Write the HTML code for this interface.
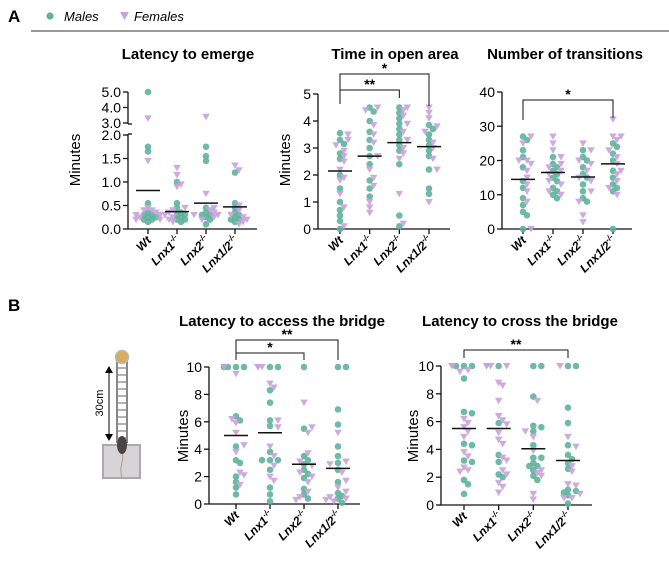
<!DOCTYPE html>
<html><head><meta charset="utf-8"><style>
body{margin:0;background:#fff}
svg{display:block;font-family:"Liberation Sans",Arial,sans-serif}
.t{font-weight:bold;font-size:15px;text-anchor:middle}
.tk{font-size:14px;text-anchor:end}
.xl{font-size:12px;font-weight:bold;font-style:italic;text-anchor:end}
</style></head><body>
<svg id="fig" width="669" height="563" viewBox="0 0 669 563">
<text x="8" y="22" font-size="17" font-weight="bold">A</text>
<g>
<circle cx="50" cy="16" r="3.6" fill="#5fb39c"/>
<text x="64" y="21" font-size="13" font-style="italic">Males</text>
<path d="M120,12 L129,12 L124.5,20 Z" fill="#c8a2db"/>
<text x="134" y="21" font-size="13" font-style="italic">Females</text>
</g>
<line x1="31" y1="31" x2="669" y2="31" stroke="#333" stroke-width="1"/>
<text x="8" y="311" font-size="17" font-weight="bold">B</text>
<g>
<rect x="103" y="445" width="37" height="33" fill="#d6d4d6" stroke="#aaa" stroke-width="2"/>
<rect x="117" y="362" width="10" height="80" fill="none" stroke="#888" stroke-width="2"/>
<g id="rungs"></g>
<circle cx="122" cy="357" r="6.5" fill="#d9ad5e" stroke="#bbb" stroke-width="1.5"/>
<path d="M122,478 C118,465 126,460 121,450" stroke="#b39a8d" fill="none" stroke-width="1"/>
<ellipse cx="122" cy="445" rx="5" ry="9" fill="#4a4444"/>
<line x1="109" y1="372" x2="109" y2="435" stroke="#000" stroke-width="1"/>
<path d="M105,373 L113,373 L109,366 Z M105,434 L113,434 L109,441 Z" fill="#000"/>
<text x="0" y="0" font-size="11" transform="translate(103,403) rotate(-90)" text-anchor="middle">30cm</text>
</g>
</svg>
<script>
const cats=["Wt","Lnx1","Lnx2","Lnx1/2"];
// Latency to emerge
const emergeM=[[5.0,1.75,1.65,0.55,0.35,0.3,0.25,0.2,0.15,0.3,0.2,0.25],[1.0,0.55,0.45,0.3,0.25,0.2,0.2,0.3,0.35,0.15],[1.75,1.55,1.45,0.45,0.35,0.3,0.25,0.2,0.1,0.3],[1.2,0.55,0.45,0.35,0.3,0.25,0.2,0.2,0.15]];
const emergeF=[[3.3,1.45,0.45,0.4,0.35,0.3,0.25,0.2,0.3,0.4,0.2],[1.3,1.15,0.95,0.9,0.4,0.35,0.3,0.25,0.2,0.15,0.45],[3.4,0.75,0.4,0.35,0.3,0.25,0.2,0.45,0.3],[1.35,1.25,0.5,0.4,0.3,0.25,0.2,0.15,0.1]];
const emergeMean=[0.82,0.37,0.55,0.47];
const emergeTicks=["0.0","0.5","1.0","1.5","2.0","3.0","4.0","5.0"];
// Time in open area
const openM=[[3.55,3.3,3.15,2.8,2.6,2.0,1.5,1.0,0.7,0.5,0.3,0.0],[4.5,4.35,4.0,3.6,3.3,3.0,2.7,2.4,1.8,1.5,1.2],[4.5,4.3,4.1,3.9,3.7,3.5,3.3,3.1,2.9,2.4,0.5,0.1],[3.85,3.7,3.5,3.3,3.1,2.9,2.7,2.2,1.5,1.3]];
const openF=[[3.5,3.3,3.1,2.9,2.7,2.5,2.2,1.9,1.8,1.3,0.8,0.1],[4.5,4.4,3.85,3.5,3.2,2.7,2.2,1.9,1.6,1.0,0.8,0.6],[4.5,4.4,4.2,3.9,3.6,3.3,3.0,2.8,2.6,1.3,0.2],[4.5,4.3,4.1,3.8,3.6,3.2,3.0,2.6,2.2,1.0]];
const openMean=[2.15,2.7,3.2,3.05];
const openTicks=[0,1,2,3,4,5];
// Transitions
const transM=[[27,26,23,21,18,14,12,9,7,5,4,0],[21,19,18,17,16,15,14,12,11,10,9],[23,21,20,18,16,15,13,11,9,8],[25,24,22,20,17,15,13,12,11,0]];
const transF=[[27,25,20,20,19,17,15,13,11,8,0],[27,25,23,21,19,18,17,16,14,13,11,10],[25,23,20,19,17,15,14,11,8,4,2],[32,27,27,26,23,21,19,17,16,14,12,10]];
const transMean=[14.5,16.5,15.2,19];
const transTicks=[0,10,20,30,40];
// Access bridge
const accessM=[[10,10,10,10,6.4,6.1,4.2,3.2,3.0,2.0,1.6,1.2,0.7],[10,10,8.3,7.4,6.1,5.7,3.8,3.2,3.2,3.2,2.5,1.2,0.7,0.2],[10,5.5,3.5,3.2,2.9,2.5,2.2,1.9,1.1,0.7,0.4],[10,10,6.9,5.8,4.2,3.5,3.0,2.5,1.6,0.8,0.6,0.4,0.1]];
const accessF=[[10,9.5,6.2,5.9,5.2,4.3,3.8,2.3,2.1,1.4],[10,10,10,8.8,8.5,6.1,5.6,4.2,3.5,2.8,2.0,1.7],[7.4,5.6,5.2,3.7,3.1,2.8,2.3,2.0,1.6,0.9,0.5,0.3],[5.2,3.1,2.9,2.3,1.7,1.2,0.9,0.5,0.4,0.3,0.2]];
const accessMean=[5.0,5.2,2.9,2.6];
const bridgeTicks=[0,2,4,6,8,10];
// Cross bridge
const crossM=[[10,10,10,9.1,6.7,6.6,4.4,4.3,3.2,3.1,1.8,1.5,0.8],[10,5.9,3.6,3.1,2.2,2.0],[10,10,7.8,5.7,5.6,5.3,4.3,3.4,3.4,3.0,2.8,2.8,2.5,2.1,1.8],[10,10,7.0,5.9,4.3,3.6,3.3,3.0,2.6,1.1,1.0,0.9,0.7,0.1]];
const crossF=[[10,10,9.7,9.6,6.2,5.9,5.6,5.3,4.9,3.8,3.5,2.7,2.5,2.4],[10,10,10,10,8.8,8.6,7.5,6.4,6.1,5.8,5.2,4.7,4.4,3.4,3.2,2.5,2.2,1.6,1.3,0.9],[7.5,5.3,4.9,3.9,2.5,2.3,2.1,0.8,0.4],[10,4.9,4.2,2.8,2.4,1.5,1.4,0.8,0.5,0.5]];
const crossMean=[5.5,5.5,4.05,3.2];

const NS="http://www.w3.org/2000/svg";
const svg=document.getElementById('fig');
const GREEN="#5fb39c",PURPLE="#c8a2db";
function mk(tag,attrs,parent){const e=document.createElementNS(NS,tag);for(const k in attrs)e.setAttribute(k,attrs[k]);(parent||svg).appendChild(e);return e;}
const rg=document.getElementById('rungs');
for(let y=368;y<440;y+=7){mk('line',{x1:117,x2:127,y1:y,y2:y,stroke:'#888','stroke-width':1.3},rg);}

function chart(o){
  const g=mk('g',{});
  
  
  const t=mk('text',{x:o.tx,y:o.ty,class:'t'},g);t.textContent=o.title;
  
  
  if(o.ylx){
    const yl=mk('text',{transform:`translate(${o.ylx},${o.yly}) rotate(-90)`,'font-size':15,'text-anchor':'middle'},g);yl.textContent='Minutes';
    
    
  }
  const st={stroke:'#111','stroke-width':1.3};
  if(o.broken){
    mk('line',Object.assign({x1:o.ax,x2:o.ax,y1:o.y(5),y2:o.y(3)+1},st),g);
    mk('line',Object.assign({x1:o.ax,x2:o.ax,y1:o.y(2)-1,y2:o.y0},st),g);
    mk('line',Object.assign({x1:o.ax,x2:o.ax+4,y1:o.y(3)+1,y2:o.y(3)+1},st),g);
    mk('line',Object.assign({x1:o.ax,x2:o.ax+4,y1:o.y(2)-1,y2:o.y(2)-1},st),g);
  } else mk('line',Object.assign({x1:o.ax,x2:o.ax,y1:o.y(o.ticks[o.ticks.length-1]),y2:o.y0},st),g);
  const xa=mk('line',Object.assign({x1:o.ax,x2:o.axEnd,y1:o.y0,y2:o.y0},st),g);
  
  
  o.ticks.forEach(tv=>{const v=parseFloat(tv);const yy=o.y(v);
    mk('line',Object.assign({x1:o.ax-5,x2:o.ax,y1:yy,y2:yy},st),g);
    const tl=mk('text',{x:o.ax-7,y:yy+5,class:'tk'},g);tl.textContent=tv;
    
    });
  cats.forEach((c,i)=>{const cx=o.x(i);
    mk('line',Object.assign({x1:cx,x2:cx,y1:o.y0,y2:o.y0+5},st),g);
    const tl=mk('text',{class:'xl',transform:`translate(${cx+4},${o.y0+12}) rotate(-45)`},g);
    
    
    tl.textContent=c;
    if(i>0){const s=mk('tspan',{dy:-5,'font-size':8},tl);s.textContent='-/-';}
    const placed=[];
    const pts=[];
    o.M[i].forEach(v=>pts.push({v,m:1}));o.F[i].forEach(v=>pts.push({v,m:0}));
    pts.forEach(p=>{const yy=o.y(p.v);let off=0;
      const offs=[0,4,-4,8,-8,12,-12];
      for(const d of offs){off=d;if(placed.every(q=>Math.hypot(q[0]-(cx+d),q[1]-yy)>=4.5))break;}
      const px=cx+off;placed.push([px,yy]);
      let e;
      if(p.m){e=mk('circle',{cx:px,cy:yy,r:3.3,fill:GREEN,'fill-opacity':0.9},g);
        }
      else{e=mk('path',{d:`M${px-3.8},${yy-3} L${px+3.8},${yy-3} L${px},${yy+3.5} Z`,fill:PURPLE,'fill-opacity':0.9},g);
        }
      
    });
  });
  cats.forEach((c,i)=>{const cx=o.x(i),yy=o.y(o.mean[i]);
    const ml=mk('line',{x1:cx-12,x2:cx+12,y1:yy,y2:yy,stroke:'#111','stroke-width':1.5},g);
    
    });
  (o.br||[]).forEach(b=>{const x1=o.x(b[0]),x2=o.x(b[1]);
    const p=mk('path',{d:`M${x1},${b[3]} L${x1},${b[2]} L${x2},${b[2]} L${x2},${b[4]}`,fill:'none',stroke:'#111','stroke-width':1},g);
    
    
    const s=mk('text',{x:(x1+x2)/2,y:b[2]-1,'text-anchor':'middle','font-size':14,'font-weight':'bold'},g);s.textContent=b[5];
    
    });
}
function lin(v0,y0,v1,y1){return v=>y0+(v-v0)*(y1-y0)/(v1-v0);}
function catx(a,b){return i=>a+i*(b-a)/3;}
chart({name:'latency-to-emerge-chart',title:'Latency to emerge',tx:188,ty:59,ylx:80,yly:160,ax:128,axEnd:257,y0:229,
  y:v=>v<=2.0001?229-v*47:123-(v-3)*15.5,broken:true,x:catx(148,235),ticks:emergeTicks,M:emergeM,F:emergeF,mean:emergeMean});
chart({name:'time-in-open-area-chart',title:'Time in open area',tx:395,ty:59,ylx:290,yly:160,ax:318,axEnd:450,y0:229,
  y:lin(0,229,5,94),x:catx(340,429),ticks:openTicks.map(String),M:openM,F:openF,mean:openMean,
  br:[[0,2,90,104,98,'**'],[0,3,74,104,106,'*']]});
chart({name:'number-of-transitions-chart',title:'Number of transitions',tx:565,ty:59,ylx:0,yly:0,ax:502,axEnd:632,y0:229,
  y:lin(0,229,40,92),x:catx(523,613),ticks:transTicks.map(String),M:transM,F:transF,mean:transMean,
  br:[[0,3,100,120,118,'*']]});
chart({name:'latency-to-access-bridge-chart',title:'Latency to access the bridge',tx:282,ty:326,ylx:188,yly:436,ax:209,axEnd:360,y0:504,
  y:lin(0,504,10,367),x:catx(236,338),ticks:bridgeTicks.map(String),M:accessM,F:accessF,mean:accessMean,
  br:[[0,2,353,360,360,'*'],[0,3,340,353,360,'**']]});
chart({name:'latency-to-cross-bridge-chart',title:'Latency to cross the bridge',tx:520,ty:326,ylx:418,yly:436,ax:441,axEnd:592,y0:505,
  y:lin(0,505,10,366),x:catx(464,568),ticks:bridgeTicks.map(String),M:crossM,F:crossF,mean:crossMean,
  br:[[0,3,350,358,358,'**']]});
</script>
</body></html>
